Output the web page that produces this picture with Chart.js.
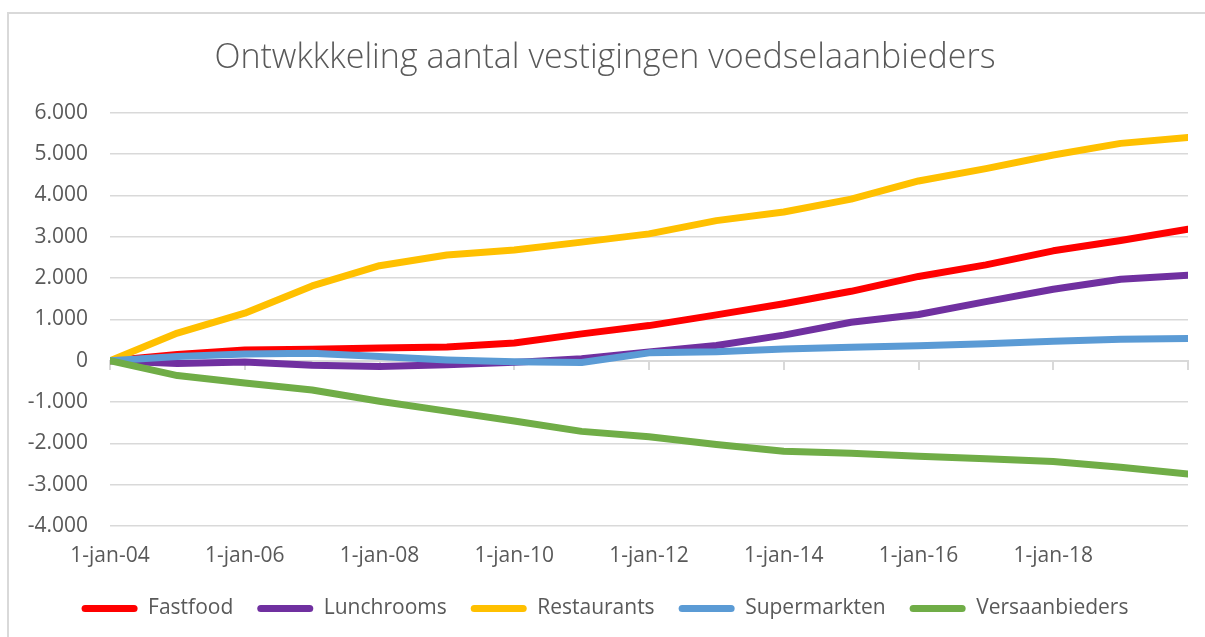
<!DOCTYPE html>
<html>
<head>
<meta charset="utf-8">
<script src="https://cdn.jsdelivr.net/npm/chart.js@4.4.1/dist/chart.umd.min.js"></script>
<style>
  html, body { margin: 0; padding: 0; background: #ffffff; overflow: hidden; width: 1205px; height: 637px; }
  #frame { position: absolute; left: 7px; top: 12px; width: 1300px; height: 700px; border: 2px solid #d9d9d9; box-sizing: border-box; }
  #wrap { position: absolute; left: 0; top: 0; width: 1205px; height: 629px; }
</style>
</head>
<body>
<div id="frame"></div>
<div id="wrap"><canvas id="c" width="1205" height="629"></canvas></div>
<script>
const years = [2004, 2005, 2006, 2007, 2008, 2009, 2010, 2011, 2012, 2013, 2014, 2015, 2016, 2017, 2018, 2019, 2020];
const xTickLabels = ['1-jan-04', '1-jan-06', '1-jan-08', '1-jan-10', '1-jan-12', '1-jan-14', '1-jan-16', '1-jan-18', ''];
const seriesNames = ['Fastfood', 'Lunchrooms', 'Restaurants', 'Supermarkten', 'Versaanbieders'];
const fastfood = [0, 150, 260, 280, 310, 330, 430, 650, 850, 1110, 1380, 1680, 2040, 2320, 2660, 2910, 3180];
const lunchrooms = [0, -70, -30, -110, -140, -100, -40, 50, 210, 370, 620, 930, 1120, 1430, 1730, 1970, 2070];
const restaurants = [0, 670, 1150, 1810, 2300, 2560, 2680, 2870, 3070, 3390, 3600, 3910, 4350, 4650, 4980, 5260, 5400];
const supermarkten = [0, 100, 160, 180, 100, 20, -25, -45, 190, 215, 285, 325, 360, 410, 470, 520, 540];
const versaanbieders = [0, -360, -540, -710, -980, -1220, -1460, -1710, -1840, -2030, -2190, -2240, -2310, -2370, -2440, -2580, -2740];

const seriesValues = [fastfood, lunchrooms, restaurants, supermarkten, versaanbieders];
const seriesColors = ['#ff0000', '#7030a0', '#ffc000', '#5b9bd5', '#70ad47'];

const txt = '#595959';
const fontFamily = "'Open Sans', 'Noto Sans', sans-serif";

function fmtNL(v) {
  const neg = v < 0;
  const s = String(Math.abs(Math.round(v))).replace(/\B(?=(\d{3})+(?!\d))/g, '.');
  return (neg ? '-' : '') + s;
}

const datasets = seriesNames.map((name, i) => ({
  label: name,
  data: years.map((yr, k) => ({ x: yr, y: seriesValues[i][k] })),
  borderColor: seriesColors[i],
  backgroundColor: seriesColors[i],
  borderWidth: 7,
  borderCapStyle: 'round',
  borderJoinStyle: 'round',
  pointRadius: 0,
  pointHoverRadius: 0,
  tension: 0,
  fill: false,
  xAxisID: 'x',
  order: seriesNames.length - i
}));

new Chart(document.getElementById('c'), {
  type: 'line',
  data: { datasets },
  options: {
    responsive: false,
    animation: false,
    events: [],
    layout: { padding: { left: 22, right: 17, top: 0, bottom: 0 } },
    plugins: {
      title: {
        display: true,
        text: 'Ontwkkkeling aantal vestigingen voedselaanbieders',
        color: txt,
        font: { family: fontFamily, size: 34, weight: '300' },
        padding: { top: 38, bottom: 34 }
      },
      legend: {
        position: 'bottom',
        labels: {
          color: txt,
          font: { family: fontFamily, size: 21 },
          boxWidth: 56,
          boxHeight: 7,
          useBorderRadius: true,
          borderRadius: 3.5,
          padding: 24,
          sort: (a, b) => a.datasetIndex - b.datasetIndex,
          generateLabels: (chart) => Chart.defaults.plugins.legend.labels.generateLabels(chart).map(l => Object.assign(l, { lineWidth: 0 }))
        }
      },
      tooltip: { enabled: false }
    },
    scales: {
      x: {
        type: 'linear',
        position: 'bottom',
        min: 2004,
        max: 2020,
        grid: { display: false, drawTicks: false },
        border: { display: false },
        afterFit: (scale) => { scale.height = 48; },
        ticks: {
          stepSize: 2,
          padding: 17,
          autoSkip: false,
          maxRotation: 0,
          color: txt,
          font: { family: fontFamily, size: 21 },
          callback: (v) => xTickLabels[Math.round((v - years[0]) / 2)]
        }
      },
      x2: {
        type: 'linear',
        position: { y: 0 },
        min: 2004,
        max: 2020,
        grid: { drawOnChartArea: false, drawTicks: true, tickLength: 8, color: '#d9d9d9', lineWidth: 2 },
        border: { display: true, color: '#d9d9d9', width: 2 },
        ticks: { stepSize: 2, display: false }
      },
      y: {
        min: -4000,
        max: 6000,
        grid: { color: '#d9d9d9', lineWidth: 1.5, drawTicks: false },
        border: { display: false },
        afterFit: (scale) => { scale.width = 88; },
        ticks: {
          stepSize: 1000,
          padding: 22,
          color: txt,
          font: { family: fontFamily, size: 21 },
          callback: (v) => fmtNL(v)
        }
      }
    }
  }
});
</script>
</body>
</html>
